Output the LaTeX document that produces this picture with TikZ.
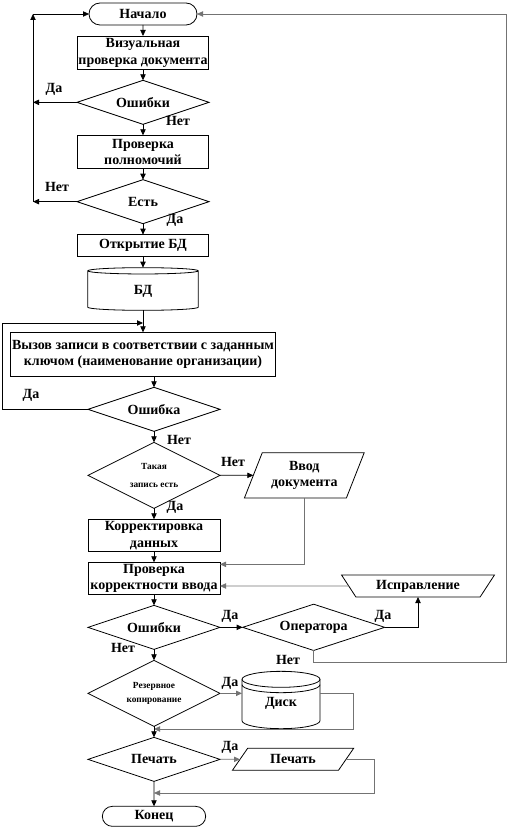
\documentclass[tikz,border=0pt]{standalone}
\usepackage{fontspec}
\setmainfont{Liberation Serif}
\usetikzlibrary{arrows.meta, positioning, shapes.geometric, shapes.misc}

\begin{document}
\begin{tikzpicture}[
        x=0.75pt, y=-0.75pt,
        base/.style={
            draw,
            line width=0.6pt,
            align=center,
            inner sep=1pt,
            outer sep=0pt,
            font=\bfseries\fontsize{10.5}{12.5}\selectfont
        },
        terminal/.style={base, rounded rectangle, minimum width=83pt, minimum height=16.5pt},
        block/.style={base, rectangle, minimum width=98pt, minimum height=25pt},
        decision/.style={base, diamond, aspect=2, inner sep=0pt, minimum width=99pt, minimum height=33pt},
        database/.style={base, cylinder, shape border rotate=90, aspect=0.3, minimum width=83pt, minimum height=32pt},
        inout/.style={base, trapezium, trapezium stretches=true, trapezium left angle=65, trapezium right angle=115},
        manual/.style={base, trapezium, trapezium stretches=true, trapezium left angle=124, trapezium right angle=124},
        small/.style={font=\bfseries\fontsize{7}{13}\selectfont},
        lbl/.style={font=\bfseries\fontsize{10.5}{12.5}\selectfont, inner sep=0pt},
        link/.style={line width=0.6pt, ->},
        glink/.style={link, draw=black!55},
        >={Triangle[length=4.5pt, width=4pt]},
        node distance=8.25pt and 17pt
    ]
    \useasboundingbox (0,0) rectangle (508,830);

    % Main column
    \node[terminal] (start) at (143,14) {Начало};
    \node[block, below=of start] (visual) {Визуальная\\проверка документа};
    \node[decision, below=of visual] (err1) {Ошибки};
    \node[block, below=of err1] (auth) {Проверка\\полномочий};
    \node[decision, below=of auth] (has) {Есть};
    \node[block, below=of has, minimum height=16.5pt] (opendb) {Открытие БД};
    \node[database, below=of opendb] (db) {БД};
    \node[block, below=16.5pt of db, minimum width=197pt, minimum height=33pt] (call)
        {Вызов записи в соответствии с заданным\\ключом (наименование организации)};
    \node[decision, below=of call, xshift=8.25pt] (err) {Ошибка};
    \node[decision, below=of err, minimum height=49.5pt, small] (rec) {Такая\\запись есть};
    \node[block, below=of rec, minimum width=99pt, minimum height=24pt] (fix) {Корректировка\\данных};
    \node[block, below=of fix, minimum width=99pt, minimum height=24pt] (check) {Проверка\\корректности ввода};
    \node[decision, below=of check] (err2) {Ошибки};
    \node[decision, below=of err2, minimum height=49.5pt, font=\bfseries\fontsize{7}{10.5}\selectfont] (backup)
        {Резервное\\копирование};
    \node[decision, below=of backup] (printq) {Печать};
    \node[terminal, below=18.75pt of printq, minimum width=79.5pt, minimum height=15pt] (finish) {Конец};

    % Side nodes
    \node[inout, right=25pt of rec, minimum width=90pt, minimum height=34pt] (input) {Ввод\\документа};
    \node[decision, right=17pt of err2, minimum width=106.5pt] (oper) {Оператора};
    \node[manual, minimum width=115pt, minimum height=16.5pt] (correct) at (418,586) {Исправление};
    \node[base, draw=none, right=16.5pt of backup, yshift=-5pt, minimum width=58.5pt, minimum height=43pt] (disk) {\\Диск};
    \node[inout, right=15pt of printq, trapezium left angle=56, trapezium right angle=124,
        minimum width=91pt, minimum height=16.5pt] (print) {Печать};

    % Disk drum
    \draw[line width=0.6pt] ([yshift=-6pt]disk.north) ellipse [x radius=29.25pt, y radius=6pt];
    \draw[line width=0.6pt] ([yshift=-6pt]disk.north west) -- ([yshift=6pt]disk.south west)
        arc [start angle=180, end angle=360, x radius=29.25pt, y radius=6pt] -- ([yshift=-6pt]disk.north east);
    \draw[line width=0.6pt] ([yshift=-10pt]disk.north west)
        arc [start angle=180, end angle=360, x radius=29.25pt, y radius=6pt];

    % Free ends
    \coordinate (left) at (33,14);
    \coordinate (left1) at (left |- err1.west);
    \coordinate (left2) at (left |- has.west);
    \coordinate (back) at (2,323);
    \coordinate (right) at (506,14);
    \coordinate (right1) at (506,662);
    \coordinate (disk1) at (353,729);
    \coordinate (print1) at (374,793);

    % Upper part
    \draw[link] (start) -- (visual);
    \draw[link] (visual) -- (err1);
    \draw[link] (err1) -- (auth);
    \draw[link] (auth) -- (has);
    \draw[link] (has) -- (opendb);
    \draw[link] (opendb) -- (db);
    \draw[link] (db) -- (call);
    \draw[link] (err1.west) -- (left1);
    \draw[link] (has.west) -- (left2);
    \draw[link] (left2) -- (left);
    \draw[link] (left) -- (start.west);
    \draw[link] (err.west) -| (back) -- (back -| db.south);
    \draw[link] (call.south -| err.north) -- (err);
    \draw[link] (err) -- (rec);

    % Lower part
    \draw[link] (rec) -- (input);
    \draw[link] (rec) -- (fix);
    \draw[link] (fix) -- (check);
    \draw[glink] (input.south) |- ([yshift=-1.5pt]check.north east);
    \draw[glink] (correct) -- (correct -| check.east);
    \draw[link] (check) -- (err2);
    \draw[link] (err2) -- (oper);
    \draw[link] (oper.east) -| (correct.south);
    \draw[glink] (oper.south) |- (right1) -- (right) -- (start.east);
    \draw[link] (err2) -- (backup);
    \draw[glink] (backup.east) -- (backup.east -| disk.west);
    \draw[glink] (disk.east |- backup.east) -| (disk1) -- (disk1 -| backup.south);
    \draw[link] (backup) -- (printq);
    \draw[glink] (printq) -- (print);
    \draw[glink] (print.east) -| (print1) -- (print1 -| printq.south);
    \draw[link] (printq) -- (finish);

    % Labels
    \node[lbl] (yes1) at (54,89) {Да};
    \node[lbl] (no1) at (178,121) {Нет};
    \node[lbl] (no2) at (57,187) {Нет};
    \node[lbl] (yes2) at (175,220) {Да};
    \node[lbl] (yes3) at (31,395) {Да};
    \node[lbl] (no3) at (179,440) {Нет};
    \node[lbl] (no4) at (233,462) {Нет};
    \node[lbl] (yes4) at (175,507) {Да};
    \node[lbl] (yes5) at (230,616) {Да};
    \node[lbl] (yes6) at (383,616) {Да};
    \node[lbl] (no5) at (123,648) {Нет};
    \node[lbl] (no6) at (288,660) {Нет};
    \node[lbl] (yes7) at (230,683) {Да};
    \node[lbl] (yes8) at (230,747) {Да};

\end{tikzpicture}
\end{document}
